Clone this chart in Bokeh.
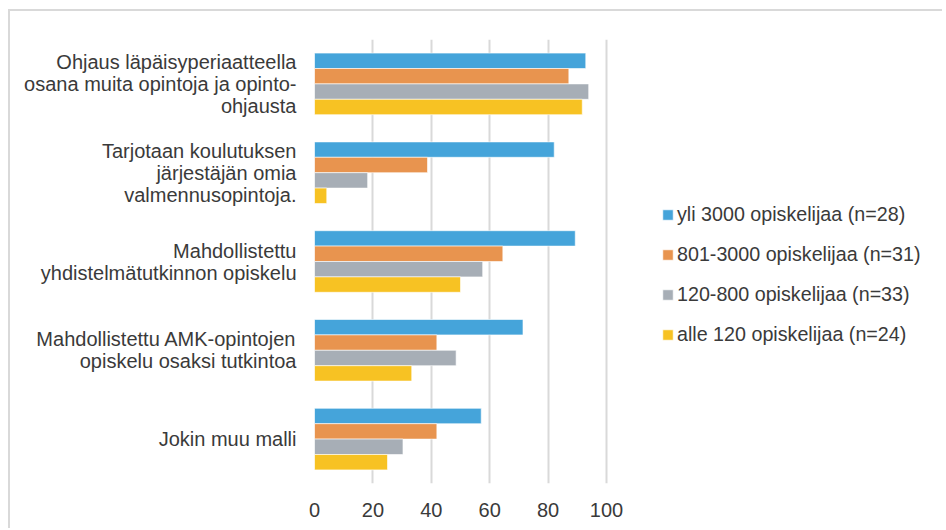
from bokeh.plotting import figure
from bokeh.models import FactorRange, Range1d, ColumnDataSource, Legend, LegendItem, FixedTicker
from bokeh.transform import dodge
from bokeh.embed import file_html
from bokeh.resources import INLINE

categories = [
    "Ohjaus läpäisyperiaatteella\nosana muita opintoja ja opinto-\nohjausta",
    "Tarjotaan koulutuksen\njärjestäjän omia\nvalmennusopintoja.",
    "Mahdollistettu\nyhdistelmätutkinnon opiskelu",
    "Mahdollistettu AMK-opintojen\nopiskelu osaksi tutkintoa",
    "Jokin muu malli",
]
series_names = [
    "yli 3000 opiskelijaa (n=28)",
    "801-3000 opiskelijaa (n=31)",
    "120-800 opiskelijaa (n=33)",
    "alle 120 opiskelijaa (n=24)",
]
yli_3000 = [92.9, 82.1, 89.3, 71.4, 57.1]
v801_3000 = [87.1, 38.7, 64.5, 41.9, 41.9]
v120_800 = [93.9, 18.2, 57.6, 48.5, 30.3]
alle_120 = [91.7, 4.2, 50.0, 33.3, 25.0]
x_ticks = [0, 20, 40, 60, 80, 100]

colors = ["#45A4DA", "#E8944F", "#A7AEB6", "#F7C223"]
offsets = [0.26, 0.0867, -0.0867, -0.26]

FONT = "Liberation Sans"
TXT = "#3a3a3a"

source = ColumnDataSource(data=dict(cat=categories, s0=yli_3000, s1=v801_3000, s2=v120_800, s3=alle_120))

# frame spans 630 px; 100 units = 292 px, the remainder hosts the legend
p = figure(
    width=934, height=519,
    y_range=FactorRange(factors=categories[::-1]),
    x_range=Range1d(0, 630 * 100 / 292),
    output_backend="svg", toolbar_location=None,
    min_border_left=304, min_border_right=0, min_border_top=28, min_border_bottom=47,
)
p.styles = {"border-left": "2px solid #d9d9d9", "border-top": "2px solid #d9d9d9",
            "margin-left": "8px", "margin-top": "9px"}
p.outline_line_color = None
p.background_fill_color = "white"
p.border_fill_color = "white"

renderers = []
for i in range(4):
    r = p.hbar(y=dodge("cat", offsets[i], range=p.y_range), right="s%d" % i, left=0,
               height=0.1734, source=source, fill_color=colors[i],
               line_color="white", line_alpha=0.6, line_width=1)
    renderers.append(r)

p.xaxis.ticker = FixedTicker(ticks=x_ticks)
p.xgrid.grid_line_color = "#d9d9d9"
p.xgrid.grid_line_width = 2
p.ygrid.grid_line_color = None

for ax in (p.xaxis, p.yaxis):
    ax.axis_line_color = None
    ax.major_tick_line_color = None
    ax.minor_tick_line_color = None
    ax.major_tick_out = 0
    ax.major_tick_in = 0
    ax.major_label_text_font = FONT
    ax.major_label_text_font_size = "20px"
    ax.major_label_text_color = TXT
p.yaxis.major_label_standoff = 18
p.yaxis.major_label_text_line_height = 1.0
p.xaxis.major_label_standoff = 19

legend = Legend(
    items=[LegendItem(label=series_names[i], renderers=[renderers[i]]) for i in range(4)],
    location=(347, 137),
    glyph_width=13, glyph_height=13, label_standoff=3, spacing=17,
    label_height=20, padding=0, margin=0,
    border_line_color=None, background_fill_alpha=0,
    label_text_font=FONT, label_text_font_size="19.7px", label_text_color=TXT,
)
p.add_layout(legend, "center")

open("out.html", "w").write(file_html(p, INLINE))
